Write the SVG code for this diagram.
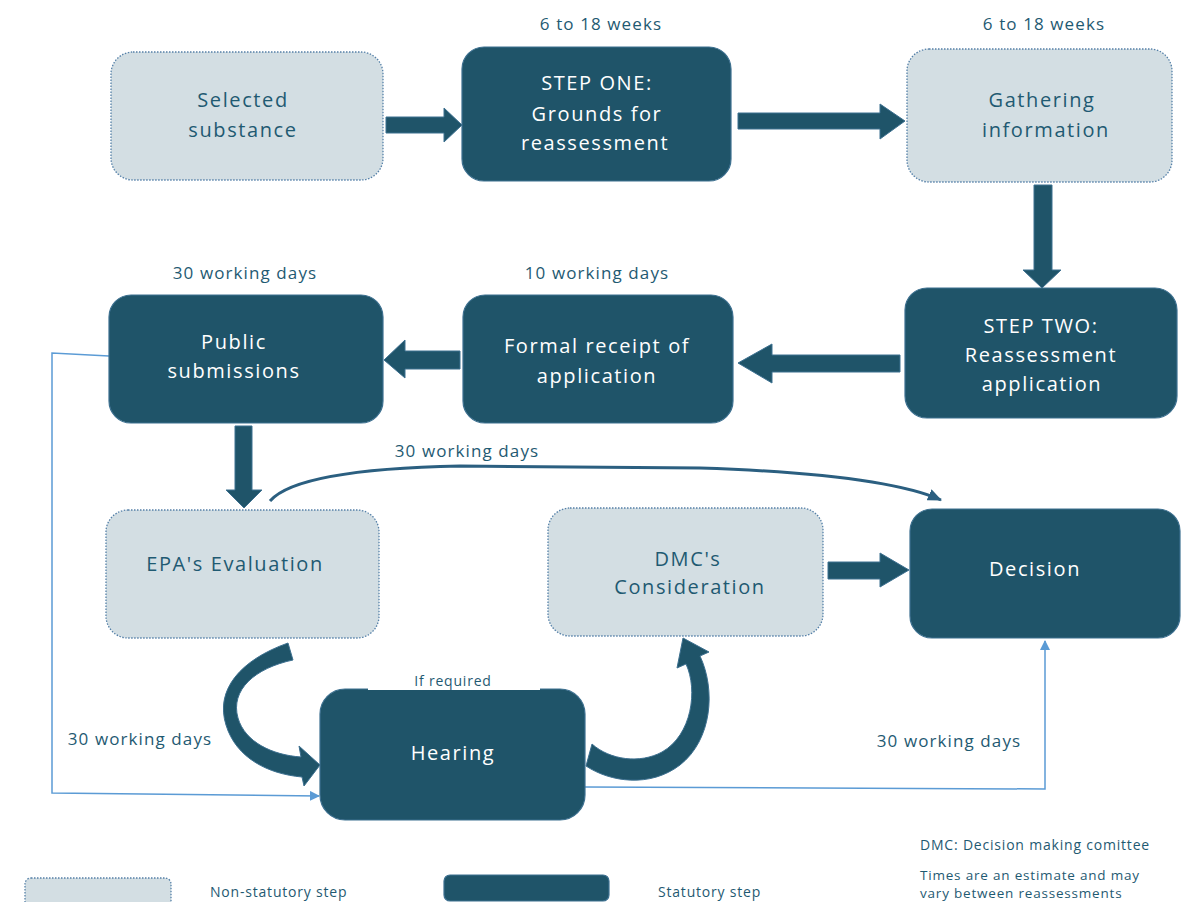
<svg xmlns="http://www.w3.org/2000/svg" width="1181" height="902" viewBox="0 0 1181 902">
<defs>
<style>
.light{fill:#d3dee3;stroke:#5580a8;stroke-width:1.3;stroke-dasharray:1.5 1.5}
.dark{fill:#1f5469;stroke:#3d7090;stroke-width:1.2}
.tl{font-family:"Open Sans","DejaVu Sans",sans-serif;font-size:20px;fill:#1f5a72;text-anchor:middle;letter-spacing:1.6px}
.td{font-family:"Open Sans","DejaVu Sans",sans-serif;font-size:20px;fill:#ffffff;text-anchor:middle;letter-spacing:1.6px}
.lbl{font-family:"Open Sans","DejaVu Sans",sans-serif;font-size:17px;fill:#1f5a72;text-anchor:middle;letter-spacing:1.1px}
.sm{font-family:"Open Sans","DejaVu Sans",sans-serif;font-size:14px;fill:#1f5a72;letter-spacing:0.8px}
.blk{fill:#1f5469;stroke:#3d7090;stroke-width:1}
.thin{fill:none;stroke:#5b9bd5;stroke-width:1.5}
</style>
<marker id="ab" markerWidth="10" markerHeight="10" refX="9" refY="5" orient="auto" markerUnits="userSpaceOnUse">
<path d="M0,0 L10,5 L0,10 Z" fill="#5b9bd5"/>
</marker>
<marker id="ad" markerWidth="14" markerHeight="12" refX="13" refY="6" orient="auto" markerUnits="userSpaceOnUse">
<path d="M0,0 L14,6 L0,12 Z" fill="#2b5f80"/>
</marker>
</defs>

<g id="connectors">
<path class="blk" d="M386,117 H444 V108 L462,125 L444,142 V133 H386 Z"/>
<path class="blk" d="M738,113 H880 V104 L905,121 L880,139 V129 H738 Z"/>
<path class="blk" d="M1034,185 H1052 V270 H1061 L1042,288 L1023,270 H1034 Z"/>
<path class="blk" d="M900,355 V372 H772 V383 L738,363 L772,344 V355 Z"/>
<path class="blk" d="M460,351 V369 H405 V378 L384,360 L405,340 V351 Z"/>
<path class="blk" d="M235,426 H252 V490 H262 L244,508 L226,490 H235 Z"/>
<path class="blk" d="M828,562 H880 V553 L909,570 L880,587 V579 H828 Z"/>
<path class="blk" d="M288,643 C240,660 215,690 226,725 C236,758 268,774 302,777 L304,786 L320,765 L299,746 L301,757 C272,755 245,742 238,718 C230,690 255,668 293,660 Z"/>
<path class="blk" d="M592,744 C610,760 640,764 662,752 C692,735 698,690 686,664 L677,668 L683,638 L709,652 L700,656 C716,690 712,740 680,765 C650,788 610,782 586,766 Z"/>
<path d="M270,501 C290,478 360,468 460,466 L700,468 C820,472 900,482 941,500" fill="none" stroke="#2b5f80" stroke-width="3" marker-end="url(#ad)"/>
<path class="thin" d="M109,356 L52,353 V793 L319,796" marker-end="url(#ab)"/>
<path class="thin" d="M585,787 L1045,789 V641" marker-end="url(#ab)"/>
</g>

<g id="n-selected">
<rect class="light" x="111" y="52" width="272" height="128" rx="22"/>
<text class="tl" x="243" y="107">Selected</text>
<text class="tl" x="243" y="137">substance</text>
</g>
<g id="n-stepone">
<rect class="dark" x="462" y="47" width="269" height="134" rx="22"/>
<text class="td" x="597" y="90">STEP ONE:</text>
<text class="td" x="597" y="121">Grounds  for</text>
<text class="td" x="595" y="150">reassessment</text>
</g>
<g id="n-gathering">
<rect class="light" x="907" y="49" width="265" height="133" rx="22"/>
<text class="tl" x="1042" y="107">Gathering</text>
<text class="tl" x="1046" y="137">information</text>
</g>
<g id="n-steptwo">
<rect class="dark" x="905" y="288" width="272" height="130" rx="22"/>
<text class="td" x="1041" y="333">STEP TWO:</text>
<text class="td" x="1041" y="362">Reassessment</text>
<text class="td" x="1042" y="391">application</text>
</g>
<g id="n-formal">
<rect class="dark" x="463" y="295" width="270" height="128" rx="22"/>
<text class="td" x="597" y="353">Formal  receipt of</text>
<text class="td" x="597" y="383">application</text>
</g>
<g id="n-public">
<rect class="dark" x="109" y="295" width="274" height="128" rx="22"/>
<text class="td" x="234" y="349">Public</text>
<text class="td" x="234" y="378">submissions</text>
</g>
<g id="n-epa">
<rect class="light" x="106" y="510" width="273" height="128" rx="22"/>
<text class="tl" x="235" y="571">EPA's Evaluation</text>
</g>
<g id="n-dmc">
<rect class="light" x="548" y="508" width="275" height="128" rx="22"/>
<text class="tl" x="688" y="566">DMC's</text>
<text class="tl" x="690" y="594">Consideration</text>
</g>
<g id="n-decision">
<rect class="dark" x="910" y="509" width="270" height="129" rx="22"/>
<text class="td" x="1035" y="576">Decision</text>
</g>
<g id="n-hearing">
<rect class="dark" x="320" y="689" width="265" height="131" rx="25"/>
<rect x="368" y="684" width="172" height="6" fill="#ffffff"/>
<text class="sm" x="453" y="686" text-anchor="middle">If required</text>
<text class="td" x="453" y="760">Hearing</text>
</g>

<g id="labels">
<text class="lbl" x="601" y="30">6 to 18 weeks</text>
<text class="lbl" x="1044" y="30">6 to 18 weeks</text>
<text class="lbl" x="245" y="279">30 working days</text>
<text class="lbl" x="597" y="279">10 working days</text>
<text class="lbl" x="467" y="457">30 working days</text>
<text class="lbl" x="140" y="745">30 working days</text>
<text class="lbl" x="949" y="747">30 working days</text>
</g>

<g id="legend">
<rect class="light" x="25" y="878" width="146" height="40" rx="6"/>
<text class="sm" x="210" y="897">Non-statutory step</text>
<rect class="dark" x="444" y="875" width="165" height="26" rx="6"/>
<text class="sm" x="658" y="897">Statutory step</text>
<text class="sm" x="920" y="850">DMC: Decision making comittee</text>
<text class="sm" x="920" y="880" style="font-size:13.5px">Times are an estimate and may</text>
<text class="sm" x="920" y="898" style="font-size:13.5px">vary between reassessments</text>
</g>
</svg>
